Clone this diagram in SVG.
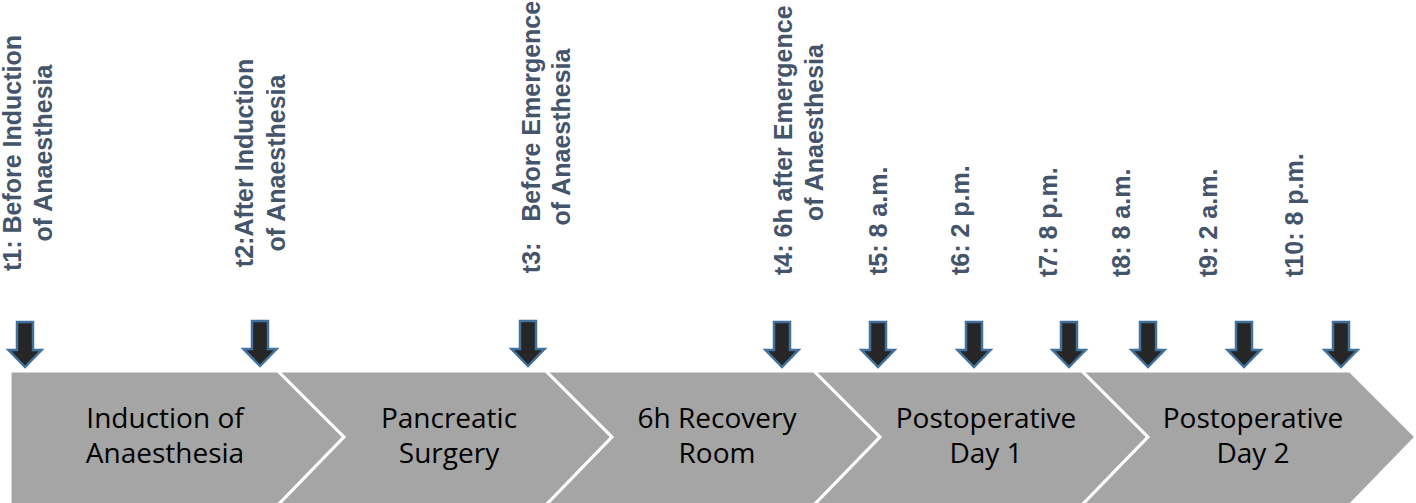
<svg xmlns="http://www.w3.org/2000/svg" width="1416" height="503" viewBox="0 0 1416 503">
<style>
.chev{fill:#A5A5A5;stroke:#FFFFFF;stroke-width:3;stroke-linejoin:miter}
.ct{font-family:"Open Sans","Liberation Sans",sans-serif;font-size:28px;fill:#000000;text-anchor:middle}
.lb{font-family:"Liberation Sans",Arial,sans-serif;font-size:25px;font-weight:bold;fill:#44546A}
.mid{text-anchor:middle}
.arr{fill:#262626;stroke:#41719C;stroke-width:2.5;stroke-linejoin:miter}
</style>
<defs>
<polygon id="dn" points="-8,0 8,0 8,28 16.5,28 0,45 -16.5,28 -8,28"/>
</defs>
<rect width="1416" height="503" fill="#FFFFFF"/>
<g id="phase1">
<polygon class="chev" points="10,371 278,371 344,437 278,505 10,505"/>
<text class="ct" x="165" y="428">Induction of</text>
<text class="ct" x="165" y="463">Anaesthesia</text>
</g>
<g id="phase2">
<polygon class="chev" points="278,371 546,371 612,437 546,505 278,505 344,437"/>
<text class="ct" x="449" y="428">Pancreatic</text>
<text class="ct" x="449" y="463">Surgery</text>
</g>
<g id="phase3">
<polygon class="chev" points="546,371 814,371 880,437 814,505 546,505 612,437"/>
<text class="ct" x="717" y="428">6h Recovery</text>
<text class="ct" x="717" y="463">Room</text>
</g>
<g id="phase4">
<polygon class="chev" points="814,371 1082,371 1148,437 1082,505 814,505 880,437"/>
<text class="ct" x="986" y="428">Postoperative</text>
<text class="ct" x="986" y="463">Day 1</text>
</g>
<g id="phase5">
<polygon class="chev" points="1082,371 1350,371 1416,437 1350,505 1082,505 1148,437"/>
<text class="ct" x="1253" y="428">Postoperative</text>
<text class="ct" x="1253" y="463">Day 2</text>
</g>
<g id="connectors">
<use href="#dn" class="arr" x="25" y="322"/>
<use href="#dn" class="arr" x="260" y="321"/>
<use href="#dn" class="arr" x="528" y="321"/>
<use href="#dn" class="arr" x="782" y="322"/>
<use href="#dn" class="arr" x="878" y="322"/>
<use href="#dn" class="arr" x="974" y="322"/>
<use href="#dn" class="arr" x="1069" y="322"/>
<use href="#dn" class="arr" x="1148" y="322"/>
<use href="#dn" class="arr" x="1244" y="322"/>
<use href="#dn" class="arr" x="1341" y="322"/>
</g>
<g id="t1">
<text class="lb mid" transform="translate(21,153) rotate(-90)"><tspan x="0" y="0">t1: Before Induction</tspan><tspan x="0" y="31">of Anaesthesia</tspan></text>
</g>
<g id="t2">
<text class="lb mid" transform="translate(253,163) rotate(-90)"><tspan x="0" y="0">t2:After Induction</tspan><tspan x="0" y="32">of Anaesthesia</tspan></text>
</g>
<g id="t3">
<text class="lb mid" xml:space="preserve" transform="translate(540,137) rotate(-90)"><tspan x="0" y="0">t3:   Before Emergence</tspan><tspan x="0" y="30">of Anaesthesia</tspan></text>
</g>
<g id="t4">
<text class="lb" transform="translate(792,275) rotate(-90)">t4: 6h after Emergence</text>
<text class="lb mid" transform="translate(823,132.5) rotate(-90)">of Anaesthesia</text>
</g>
<g id="t5"><text class="lb" transform="translate(887,275) rotate(-90)">t5: 8 a.m.</text></g>
<g id="t6"><text class="lb" transform="translate(969,275) rotate(-90)">t6: 2 p.m.</text></g>
<g id="t7"><text class="lb" transform="translate(1057,277) rotate(-90)">t7: 8 p.m.</text></g>
<g id="t8"><text class="lb" transform="translate(1130,277) rotate(-90)">t8: 8 a.m.</text></g>
<g id="t9"><text class="lb" transform="translate(1217,277) rotate(-90)">t9: 2 a.m.</text></g>
<g id="t10"><text class="lb" transform="translate(1303,277) rotate(-90)">t10: 8 p.m.</text></g>
</svg>
